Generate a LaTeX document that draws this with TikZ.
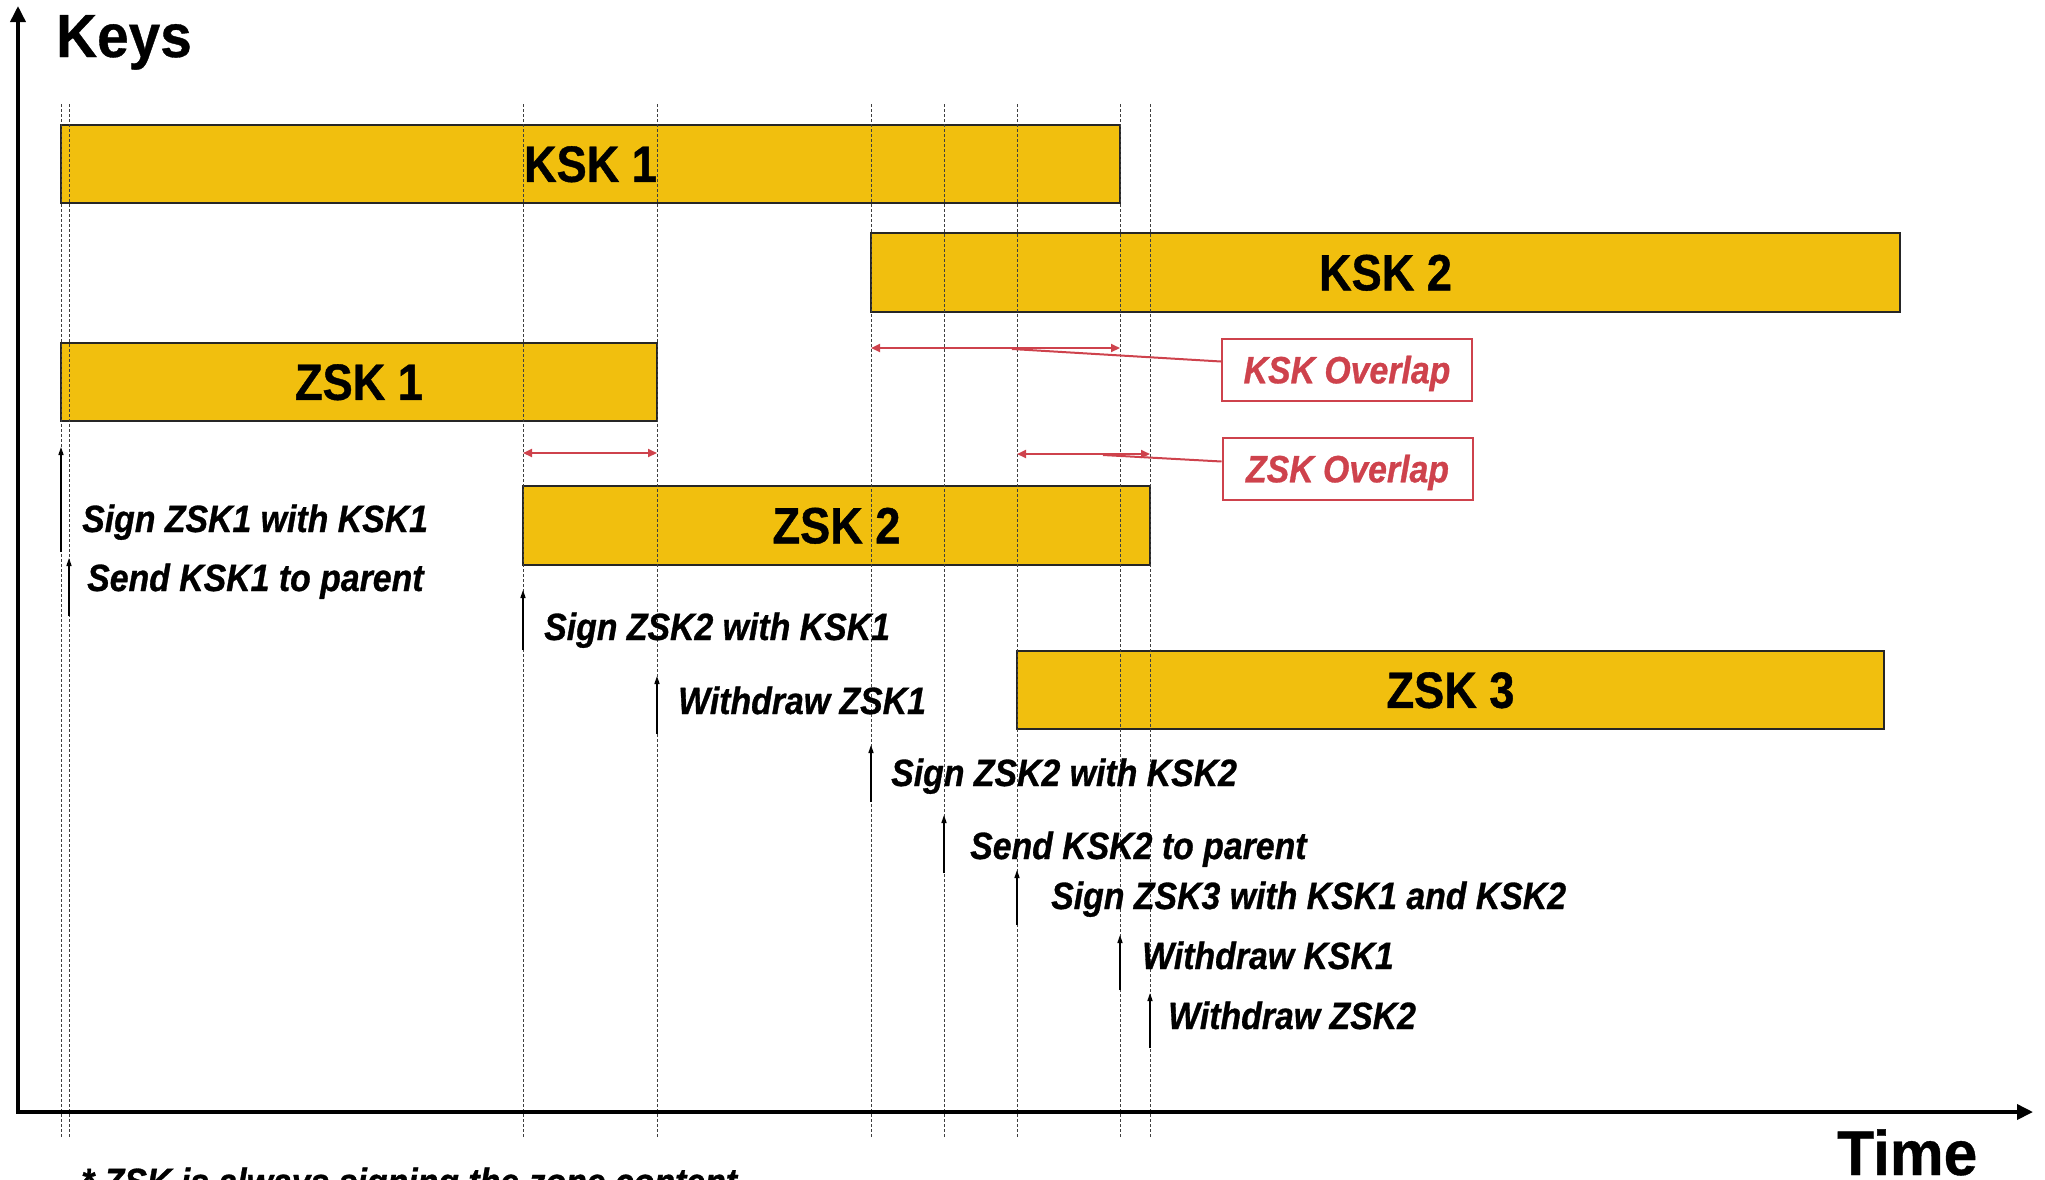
\documentclass[tikz,border=0pt]{standalone}
\usepackage{fontspec}
\setmainfont{Liberation Sans}
\newfontfamily\condfont[FakeStretch=0.885,FakeBold=0.8]{Liberation Sans}
\newfontfamily\evfont[FakeStretch=0.89,FakeBold=0.8]{Liberation Sans}
\newfontfamily\widefont[FakeStretch=0.93,FakeBold=0.6]{Liberation Sans}
\newfontfamily\timefont[FakeStretch=0.96,FakeBold=0.6]{Liberation Sans}
\usetikzlibrary{arrows.meta}
\definecolor{keygold}{RGB}{241,191,14}
\definecolor{ovred}{RGB}{206,66,76}
\begin{document}
\begin{tikzpicture}[x=1pt,y=-1pt,
  keybox/.style={draw=black!85, line width=1.6pt, fill=keygold, inner sep=0pt, text depth=0pt, font=\condfont\bfseries\fontsize{51}{55}\selectfont},
  guide/.style={draw=black!75, line width=1pt, dash pattern=on 3pt off 2pt},
  axis/.style={line width=3.6pt, -{Triangle[length=16pt,width=15pt]}},
  evarrow/.style={line width=1.5pt, -{Triangle[length=8pt,width=5pt]}},
  evtext/.style={anchor=base west, inner sep=0pt, font=\evfont\bfseries\itshape\fontsize{38}{42}\selectfont},
  ovarrow/.style={draw=ovred, line width=2pt, {Triangle[length=9pt,width=8pt]}-{Triangle[length=9pt,width=8pt]}},
  ovbox/.style={draw=ovred, line width=2pt, fill=white, inner sep=0pt, minimum width=250pt, minimum height=62pt, text depth=0pt, text=ovred, font=\evfont\bfseries\itshape\fontsize{38}{42}\selectfont},
  leader/.style={draw=ovred, line width=2pt},
  title/.style={anchor=base west, inner sep=0pt, font=\widefont\bfseries\fontsize{61}{65}\selectfont}
]
\useasboundingbox (0,0) rectangle (2045,1179);

% key lifetime boxes
\node[keybox, minimum width=1059pt, minimum height=78pt] (ksk1) at (590.5,164) {KSK 1};
\node[keybox, minimum width=1029pt, minimum height=79pt] (ksk2) at (1385.5,272.5) {KSK 2};
\node[keybox, minimum width=596pt, minimum height=78pt] (zsk1) at (359,382) {ZSK 1};
\node[keybox, minimum width=627pt, minimum height=79pt] (zsk2) at (836.5,525.5) {ZSK 2};
\node[keybox, minimum width=867pt, minimum height=78pt] (zsk3) at (1450.5,690) {ZSK 3};

% guide lines
\foreach \gx in {61,69,523,657,871,944,1017,1120,1150}
  \draw[guide] (\gx,104) -- (\gx,1137);

% axes
\coordinate (ytip) at (18,6);
\coordinate (xtip) at (2033,1112);
\coordinate (ybase) at (18,1113.8);
\coordinate (xbase) at (16.2,1112);
\draw[axis] (ybase) -- (ytip);
\draw[axis] (xbase) -- (xtip);
\node[title] (keys) at (56,57) {Keys};
\node[title, font=\timefont\bfseries\fontsize{63}{67}\selectfont] (time) at (1837,1175) {Time};

% events
\foreach \n/\ex/\eb/\et/\tx/\ty/\txt in {
  1/61/552/447/82/532/{Sign ZSK1 with KSK1},
  2/69/616/558/87/591/{Send KSK1 to parent},
  3/523/650/590/544/640/{Sign ZSK2 with KSK1},
  4/657/734/676/678/714/{Withdraw ZSK1},
  5/871/802/745/891/786/{Sign ZSK2 with KSK2},
  6/944/873/815/970/859/{Send KSK2 to parent},
  7/1017/925/870/1051/909/{Sign ZSK3 with KSK1 and KSK2},
  8/1120/990/935/1142/969/{Withdraw KSK1},
  9/1150/1048/993/1168/1029/{Withdraw ZSK2}}{
  \coordinate (eb\n) at (\ex,\eb);
  \coordinate (et\n) at (\ex,\et);
  \draw[evarrow] (eb\n) -- (et\n);
  \node[evtext] (ev\n) at (\tx,\ty) {\txt};
}

% overlaps
\coordinate (ka) at (871,348);
\coordinate (kb) at (1120,348);
\draw[ovarrow] (ka) -- (kb);
\coordinate (za) at (523,453);
\coordinate (zb) at (657,453);
\draw[ovarrow] (za) -- (zb);
\coordinate (zc) at (1017,454);
\coordinate (zd) at (1150,454);
\draw[ovarrow] (zc) -- (zd);

\node[ovbox] (kov) at (1347,369.5) {KSK Overlap};
\node[ovbox] (zov) at (1347.5,468.5) {ZSK Overlap};
\coordinate (kl) at (1012,349);
\coordinate (zl) at (1103,455);
\draw[leader] (kl) -- ([yshift=8pt]kov.west);
\draw[leader] (zl) -- ([yshift=7pt]zov.west);

% footnote (cut off at the bottom edge)
\node[evtext] (note) at (81,1195) {* ZSK is always signing the zone content};
\end{tikzpicture}
\end{document}
